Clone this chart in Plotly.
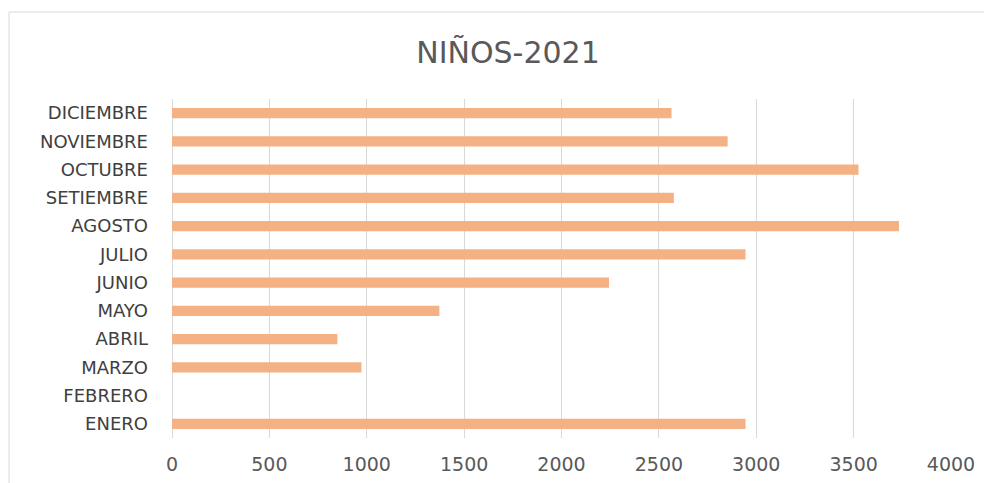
import plotly.graph_objects as go

months = ["ENERO", "FEBRERO", "MARZO", "ABRIL", "MAYO", "JUNIO", "JULIO",
          "AGOSTO", "SETIEMBRE", "OCTUBRE", "NOVIEMBRE", "DICIEMBRE"]
values = [2945, 0, 973, 849, 1373, 2244, 2945, 3733, 2577, 3525, 2853, 2565]
x_ticks = [0, 500, 1000, 1500, 2000, 2500, 3000, 3500, 4000]

# page has an 8px body margin; figure occupies page 8..992 x 8..483
OFF = 8
W, H = 992 - OFF, 483 - OFF
L, R, T, B = 172 - OFF, 41, 99 - OFF, 45

fig = go.Figure(go.Bar(
    x=values, y=months, orientation="h",
    marker=dict(color="#F4B183", line=dict(width=0)),
    width=0.37,
))

pw = W - L - R
ph = H - T - B
fig.add_shape(type="rect", xref="paper", yref="paper",
              x0=(9 - OFF - L) / pw, x1=(1100 - L) / pw,
              y0=(H - B - 600) / ph, y1=(H - B - (12 - OFF)) / ph,
              line=dict(color="#D9D9D9", width=1), fillcolor="rgba(0,0,0,0)", layer="below")

FONT = "DejaVu Sans"
fig.update_layout(
    width=W, height=H,
    margin=dict(l=L, r=R, t=T, b=B, pad=0, autoexpand=False),
    paper_bgcolor="white", plot_bgcolor="white",
    title=dict(text="NIÑOS-2021", x=(508 - OFF) / W, xanchor="center",
               y=1 - (52 - OFF) / H, yanchor="middle",
               font=dict(family=FONT, size=30, color="#595959")),
    font=dict(family=FONT, color="#595959"),
    showlegend=False,
    xaxis=dict(range=[0, 4000], tickvals=x_ticks, showgrid=True, gridcolor="#D9D9D9",
               gridwidth=1, zeroline=True, zerolinecolor="#D9D9D9", zerolinewidth=1,
               showline=False, ticks="", automargin=False,
               ticklabelstandoff=13, tickfont=dict(family=FONT, size=19, color="#595959")),
    yaxis=dict(categoryorder="array", categoryarray=months, showgrid=False,
               zeroline=False, showline=False, ticks="", ticklabelstandoff=23,
               automargin=False,
               tickfont=dict(family=FONT, size=18, color="#404040"), range=[-0.5, 11.5]),
)

fig.write_html("out.html")
